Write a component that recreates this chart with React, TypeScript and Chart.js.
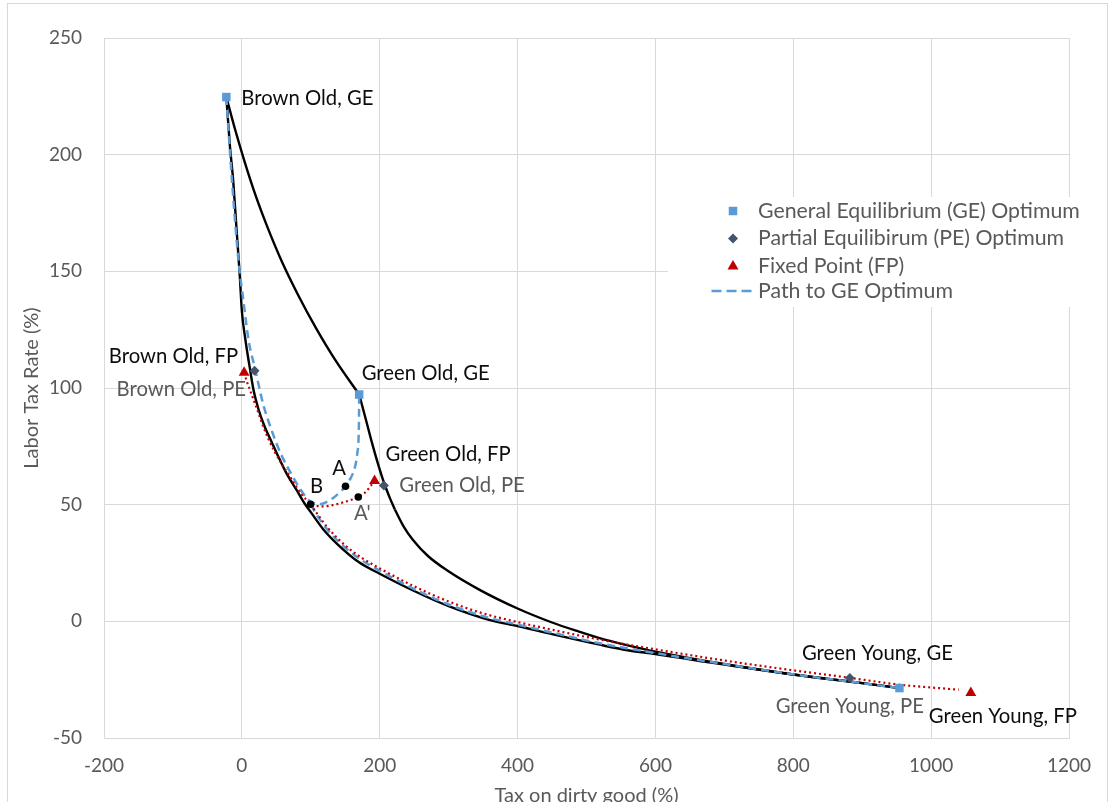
import { useEffect, useRef } from "react";
import { Chart, registerables } from "chart.js";

Chart.register(...registerables);

// ---------- data ----------
const xTicksRange = [-200, 1200];
const yTicksRange = [-50, 250];

const geNames = ["Brown Old, GE", "Green Old, GE", "Green Young, GE"];
const geX = [-22.5, 170.2, 954];
const geY = [224.7, 97.2, -28.6];

const peNames = ["Brown Old, PE", "Green Old, PE", "Green Young, PE"];
const peX = [18.4, 206, 882];
const peY = [107.4, 58.2, -24.3];

const fpNames = ["Brown Old, FP", "Green Old, FP", "Green Young, FP"];
const fpX = [3.3, 192.5, 1057.6];
const fpY = [106.6, 60.2, -30.6];

const dotNames = ["A", "B", "A'"];
const dotX = [150.4, 99.7, 168.9];
const dotY = [57.9, 50.2, 53.3];

// black frontier from Brown Old GE down to Green Young GE
const lowerFrontier: [number, number][] = [
  [-22.5, 224.7], [-17.4, 204], [-12.6, 189], [-7.7, 168], [-3, 148], [0, 133],
  [5, 121], [11.6, 108.5], [17, 99], [24, 91], [33, 83.5], [43, 77], [55, 69.3],
  [65, 63.3], [80, 56], [91, 50.5], [100, 46.8], [118, 39.5], [140, 32.7], [170, 25.3],
  [200, 20.4], [250, 13], [300, 6.5], [360, 0.5], [400, -2], [450, -5.5],
  [519, -10], [562, -12.5], [600, -14], [664, -17], [700, -18.5], [800, -22.8],
  [900, -26.5], [954, -28.6],
];

// black frontier through Green Old GE (three pieces: to Green Old GE, to the kink, to Green Young GE)
const upperFrontierTop: [number, number][] = [
  [-22.5, 224.7], [-10.2, 211.2], [4.4, 196.6], [20.3, 182.2], [37.7, 168.5],
  [58, 154.2], [81.2, 140.1], [107.4, 125.8], [136.4, 111.6], [170.2, 97.2],
];
const upperFrontierMid: [number, number][] = [
  [170.2, 97.2], [180, 86.4], [188.7, 76.6], [197.4, 67.6], [206.1, 59.5],
  [214.8, 52.8], [222, 47.9],
];
const upperFrontierLow: [number, number][] = [
  [222, 47.9], [235, 40.5], [248, 35], [270, 28], [297, 22], [345, 13.5],
  [400, 5.5], [450, -0.5], [490, -4.5], [519, -7.2], [563, -10.5], [600, -13],
  [650, -15.8], [700, -18.3], [800, -22.8], [900, -26.5], [954, -28.6],
];

// path to GE optimum (blue dashed)
const gePathOld: [number, number][] = [
  [-22.5, 224.7], [-17, 200], [-10, 172], [-4, 152], [2, 138], [10, 120],
  [19, 108.5], [31, 93], [43, 82], [57, 71.5], [72, 63], [85, 56.5], [95, 52.5],
  [105, 50.5], [113, 50.2], [122, 51], [133, 53], [142, 55.3], [150.4, 57.9],
  [158, 61.5], [164, 66], [167.5, 72], [169.5, 80], [170, 88], [170.2, 97.2],
];
const gePathYoung: [number, number][] = [
  [99.7, 50.2], [110, 45], [125, 39], [150, 31.5], [175, 26], [200, 21.7],
  [250, 13.8], [300, 7.2], [350, 2.2], [400, -1.4], [450, -4.8], [519, -9.4],
  [600, -13.6], [700, -18.3], [800, -22.7], [900, -26.5], [954, -28.6],
];

// fixed point path (red dotted)
const fpPathOld: [number, number][] = [
  [3.3, 106.6], [7, 103], [11.6, 99.3], [17, 95], [23.7, 89.5], [31, 83.5],
  [38, 78.5], [48, 72.5], [60, 66.5], [72, 61], [85, 55], [93, 52.3],
  [99.7, 50.2], [110, 49.4], [120, 49.3], [132, 49.8], [145, 50.8], [158, 52],
  [168.9, 53.3], [178, 55], [185, 57.3], [192.5, 60.2],
];
const fpPathYoung: [number, number][] = [
  [99.7, 50.2], [110, 45.8], [125, 40], [150, 32.5], [175, 27], [200, 22.7],
  [250, 15], [300, 8.5], [350, 3.4], [400, -0.3], [450, -3.6], [519, -7.8],
  [600, -12], [700, -16.8], [800, -21], [882, -24.2], [950, -27], [1040, -29.3],
];

// ---------- styles ----------
const FONT = "Lato";
const GRAY = "#595959";
const BLACK = "#0D0D0D";
const BLUE = "#5B9BD5";
const SLATE = "#44546A";
const RED = "#C00000";

const labelStyle: Record<string, { dx: number; dy: number; align: CanvasTextAlign; color: string }> = {
  "Brown Old, GE": { dx: 15, dy: 8, align: "left", color: BLACK },
  "Green Old, GE": { dx: 2.5, dy: -15, align: "left", color: BLACK },
  "Green Young, GE": { dx: -22, dy: -28, align: "center", color: BLACK },
  "Brown Old, PE": { dx: -8.5, dy: 25.5, align: "right", color: GRAY },
  "Green Old, PE": { dx: 15.5, dy: 6, align: "left", color: GRAY },
  "Green Young, PE": { dx: 0, dy: 35, align: "center", color: GRAY },
  "Brown Old, FP": { dx: -6, dy: -10, align: "right", color: BLACK },
  "Green Old, FP": { dx: 11, dy: -19.5, align: "left", color: BLACK },
  "Green Young, FP": { dx: 32, dy: 30, align: "center", color: BLACK },
  A: { dx: -6.5, dy: -11.5, align: "center", color: BLACK },
  B: { dx: 6, dy: -11.5, align: "center", color: BLACK },
  "A'": { dx: 4, dy: 23, align: "center", color: GRAY },
};

const pts = (xs: number[], ys: number[]) => xs.map((x, i) => ({ x, y: ys[i] }));
const pairs = (arr: [number, number][]) => arr.map(([x, y]) => ({ x, y }));

const borderPlugin = {
  id: "outerBorder",
  beforeDraw(chart: any) {
    const ctx = chart.ctx;
    ctx.save();
    ctx.strokeStyle = "#D9D9D9";
    ctx.lineWidth = 1;
    ctx.strokeRect(7.5, 3.5, 1100, 900);
    ctx.restore();
  },
};

const labelsPlugin = {
  id: "pointLabels",
  afterDatasetsDraw(chart: any) {
    const ctx = chart.ctx;
    const xs = chart.scales.x;
    const ys = chart.scales.y;
    const groups: [string[], number[], number[]][] = [
      [geNames, geX, geY],
      [peNames, peX, peY],
      [fpNames, fpX, fpY],
      [dotNames, dotX, dotY],
    ];
    ctx.save();
    ctx.font = `20.3px ${FONT}`;
    ctx.textBaseline = "alphabetic";
    for (const [names, gx, gy] of groups) {
      names.forEach((name, i) => {
        const st = labelStyle[name];
        const px = xs.getPixelForValue(gx[i]);
        const py = ys.getPixelForValue(gy[i]);
        ctx.fillStyle = st.color;
        ctx.textAlign = st.align;
        ctx.fillText(name, px + st.dx, py + st.dy);
      });
    }
    ctx.restore();
  },
};

const legendPlugin = {
  id: "customLegend",
  afterDatasetsDraw(chart: any) {
    const ctx = chart.ctx;
    ctx.save();
    ctx.fillStyle = "#FFFFFF";
    ctx.fillRect(668, 197, 404, 110);
    const mx = 733;
    const tx = 758;
    const rows = [211, 238.5, 266, 291];
    // GE square
    ctx.fillStyle = BLUE;
    ctx.fillRect(mx - 4.25, rows[0] - 4.25, 8.5, 8.5);
    // PE diamond
    ctx.fillStyle = SLATE;
    ctx.beginPath();
    ctx.moveTo(mx, rows[1] - 5);
    ctx.lineTo(mx + 5, rows[1]);
    ctx.lineTo(mx, rows[1] + 5);
    ctx.lineTo(mx - 5, rows[1]);
    ctx.closePath();
    ctx.fill();
    // FP triangle
    ctx.fillStyle = RED;
    ctx.beginPath();
    ctx.moveTo(mx, rows[2] - 6);
    ctx.lineTo(mx + 5.5, rows[2] + 3.5);
    ctx.lineTo(mx - 5.5, rows[2] + 3.5);
    ctx.closePath();
    ctx.fill();
    // path dashes
    ctx.strokeStyle = BLUE;
    ctx.lineWidth = 2.5;
    ctx.setLineDash([10, 5]);
    ctx.beginPath();
    ctx.moveTo(711.5, rows[3]);
    ctx.lineTo(756, rows[3]);
    ctx.stroke();
    ctx.setLineDash([]);
    ctx.font = `21.3px ${FONT}`;
    ctx.fillStyle = GRAY;
    ctx.textAlign = "left";
    ctx.textBaseline = "middle";
    const texts = [
      "General Equilibrium (GE) Optimum",
      "Partial Equilibirum (PE) Optimum",
      "Fixed Point (FP)",
      "Path to GE Optimum",
    ];
    texts.forEach((t, i) => ctx.fillText(t, tx, rows[i]));
    ctx.restore();
  },
};

export default function App() {
  const ref = useRef<HTMLCanvasElement>(null);
  useEffect(() => {
    document.body.style.margin = "0";
    document.body.style.overflow = "hidden";
    const curve = (data: { x: number; y: number }[], color: string, width: number, dash: number[]) => ({
      data,
      showLine: true,
      borderColor: color,
      backgroundColor: color,
      borderWidth: width,
      borderDash: dash,
      borderCapStyle: "butt" as const,
      pointRadius: 0,
      pointHoverRadius: 0,
      cubicInterpolationMode: "monotone" as const,
    });
    const chart = new Chart(ref.current!, {
      type: "scatter",
      data: {
        datasets: [
          {
            label: "General Equilibrium (GE) Optimum",
            data: pts(geX, geY),
            pointStyle: "rect",
            pointRadius: 6,
            backgroundColor: BLUE,
            borderColor: BLUE,
            borderWidth: 0,
          },
          {
            label: "Partial Equilibirum (PE) Optimum",
            data: pts(peX, peY),
            pointStyle: "rectRot",
            pointRadius: 5,
            backgroundColor: SLATE,
            borderColor: SLATE,
            borderWidth: 0,
          },
          {
            label: "Fixed Point (FP)",
            data: pts(fpX, fpY),
            pointStyle: "triangle",
            pointRadius: 6.3,
            backgroundColor: RED,
            borderColor: RED,
            borderWidth: 0,
          },
          {
            label: "A, B, A'",
            data: pts(dotX, dotY),
            pointStyle: "circle",
            pointRadius: 3.8,
            backgroundColor: "#000",
            borderColor: "#000",
            borderWidth: 0,
          },
          { label: "FP path old", ...curve(pairs(fpPathOld), RED, 2.2, [2, 3]) },
          { label: "FP path young", ...curve(pairs(fpPathYoung), RED, 2.2, [2, 3]) },
          { label: "Path to GE Optimum", ...curve(pairs(gePathOld), BLUE, 2.5, [8, 5]) },
          { label: "Path to GE young", ...curve(pairs(gePathYoung), BLUE, 2.5, [8, 5]) },
          { label: "lower", ...curve(pairs(lowerFrontier), "#000", 2.4, []) },
          { label: "upper top", ...curve(pairs(upperFrontierTop), "#000", 2.4, []) },
          { label: "upper mid", ...curve(pairs(upperFrontierMid), "#000", 2.4, []) },
          { label: "upper low", ...curve(pairs(upperFrontierLow), "#000", 2.4, []) },
        ] as any,
      },
      options: {
        responsive: false,
        animation: false,
        devicePixelRatio: 1,
        events: [],
        layout: { padding: { left: 0, top: 38, right: 41, bottom: 22 } },
        plugins: {
          legend: { display: false },
          tooltip: { enabled: false },
        },
        scales: {
          x: {
            type: "linear",
            min: xTicksRange[0],
            max: xTicksRange[1],
            ticks: {
              stepSize: 200,
              color: GRAY,
              font: { family: FONT, size: 19 },
              padding: 16,
              callback: (v: any) => String(v),
            },
            grid: { color: "#D9D9D9", drawTicks: false },
            border: { color: "#D9D9D9" },
            title: {
              display: true,
              text: "Tax on dirty good (%)",
              color: GRAY,
              font: { family: FONT, size: 20 },
              padding: { top: 0, bottom: 0 },
            },
            afterFit: (s: any) => {
              s.height = 70;
            },
          },
          y: {
            type: "linear",
            min: yTicksRange[0],
            max: yTicksRange[1],
            ticks: {
              stepSize: 50,
              color: GRAY,
              font: { family: FONT, size: 19 },
              padding: 22,
              callback: (v: any) => String(v),
            },
            grid: { color: "#D9D9D9", drawTicks: false },
            border: { color: "#D9D9D9" },
            title: {
              display: true,
              text: "Labor Tax Rate (%)",
              color: GRAY,
              font: { family: FONT, size: 20 },
              padding: { top: 20, bottom: 0 },
            },
            afterFit: (s: any) => {
              s.width = 104;
            },
          },
        },
      } as any,
      plugins: [borderPlugin, labelsPlugin, legendPlugin],
    });
    return () => chart.destroy();
  }, []);
  return (
    <div style={{ width: 1110, height: 802, overflow: "hidden" }}>
      <canvas ref={ref} width={1110} height={830} style={{ display: "block" }} />
    </div>
  );
}
